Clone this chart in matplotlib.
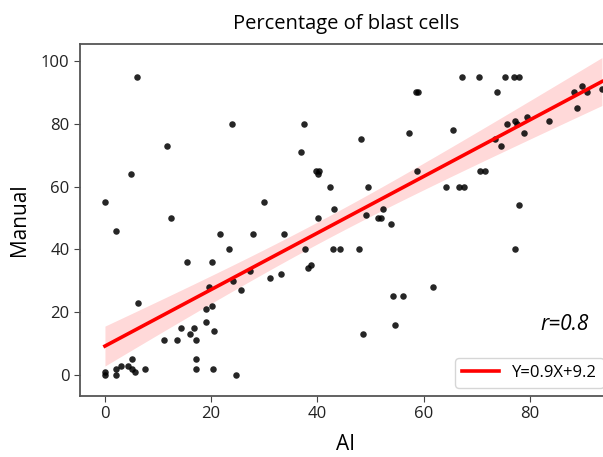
import numpy as np
import matplotlib
matplotlib.use("Agg")
import matplotlib.pyplot as plt

# valores
ai = [6.1, 24, 11.6, 4.9, 0, 2.0, 12.4, 21.7, 27.9, 23.4, 15.4, 20.2, 27.3, 24.2,
      25.7, 19.6, 6.3, 19.0, 20.2, 19.1, 20.6, 14.4, 16.8, 16, 17.1, 11.1, 13.6,
      17.1, 17.1, 20.3, 24.7, 7.6, 5.1, 5.6, 5.1, 4.3, 3.0, 2.0, 2.0, 0, 0,
      58.6, 59.0, 37.5, 57.2, 48.2, 37.0, 39.7, 40.3, 40.1, 42.4, 49.5, 58.8,
      29.9, 43.1, 52.4, 33.7, 40.1, 49.2, 51.4, 52.0, 53.9, 37.7, 42.9, 44.3,
      47.9, 38.2, 38.9, 31.1, 33.2, 54.2, 56.1, 54.7, 48.6, 61.7, 67.2, 70.4,
      75.4, 77.1, 77.9, 73.9, 65.5, 75.8, 77.3, 77.7, 79.5, 83.7, 78.9, 73.5,
      74.6, 88.3, 89.9, 90.8, 89, 93.6, 70.7, 71.6, 64.3, 66.7, 67.6, 77.9, 77.3]
manual = [95, 80, 73, 64, 55, 46, 50, 45, 45, 40, 36, 36, 33, 30,
          27, 28, 23, 21, 22, 17, 14, 15, 15, 13, 11, 11, 11,
          5, 2, 2, 0, 2, 5, 1, 2, 3, 3, 2, 0, 1, 0,
          90, 90, 80, 77, 75, 71, 65, 65, 64, 60, 60, 65,
          55, 53, 53, 45, 50, 51, 50, 50, 48, 40, 40, 40,
          40, 34, 35, 31, 32, 25, 25, 16, 13, 28, 95, 95,
          95, 95, 95, 90, 78, 80, 81, 80, 82, 81, 77, 75,
          73, 90, 92, 90, 85, 91, 65, 65, 60, 60, 60, 54, 40]
pendiente = 0.9
intercepto = 9.2
r_valor = 0.8

x = np.array(ai, dtype=float)
y = np.array(manual, dtype=float)

# banda de confianza alrededor de la recta
n = len(x)
xs = np.linspace(x.min(), x.max(), 200)
ys = pendiente * xs + intercepto
resid = y - (pendiente * x + intercepto)
s = np.sqrt(np.sum(resid ** 2) / (n - 2))
sxx = np.sum((x - x.mean()) ** 2)
se = s * np.sqrt(1 / n + (xs - x.mean()) ** 2 / sxx)
ci = 1.7 * se

plt.rcParams['font.family'] = ['Open Sans', 'DejaVu Sans']

fig = plt.figure(figsize=(6.03, 4.57), dpi=100)
ax = fig.add_axes([80 / 603, 1 - 396 / 457, (612 - 80) / 603, (396 - 44) / 457])

ax.scatter(x, y, s=22, color='black', alpha=0.85, linewidths=0, zorder=3)
ax.fill_between(xs, ys - ci, ys + ci, color='red', alpha=0.15, linewidth=0, zorder=2)
ax.plot(xs, ys, color='red', lw=2.6, zorder=4,
        label=f"Y={pendiente}X+{intercepto}")

ax.set_xlim(-4.7, 95.5)
ax.set_ylim(-6.7, 105.4)
ax.set_xticks([0, 20, 40, 60, 80])
ax.set_yticks([0, 20, 40, 60, 80, 100])
ax.tick_params(labelsize=12, color='#444444', length=4, labelcolor='#222222')
for lado in ['left', 'bottom', 'top', 'right']:
    ax.spines[lado].set_color('#555555')
    ax.spines[lado].set_linewidth(1.3)

ax.set_title("Percentage of blast cells", fontsize=14.5, pad=11)
ax.set_xlabel("AI", fontsize=15, labelpad=8)
ax.set_ylabel("Manual", fontsize=15, labelpad=8)

ax.text(86.5, 16, f"r={r_valor}", fontsize=15, style='italic', ha='center', va='center')
ax.legend(loc='lower right', fontsize=12, handlelength=2.2,
          bbox_to_anchor=(1.0, 0.0), borderaxespad=0.5)

fig.savefig("out.png", dpi=100)
